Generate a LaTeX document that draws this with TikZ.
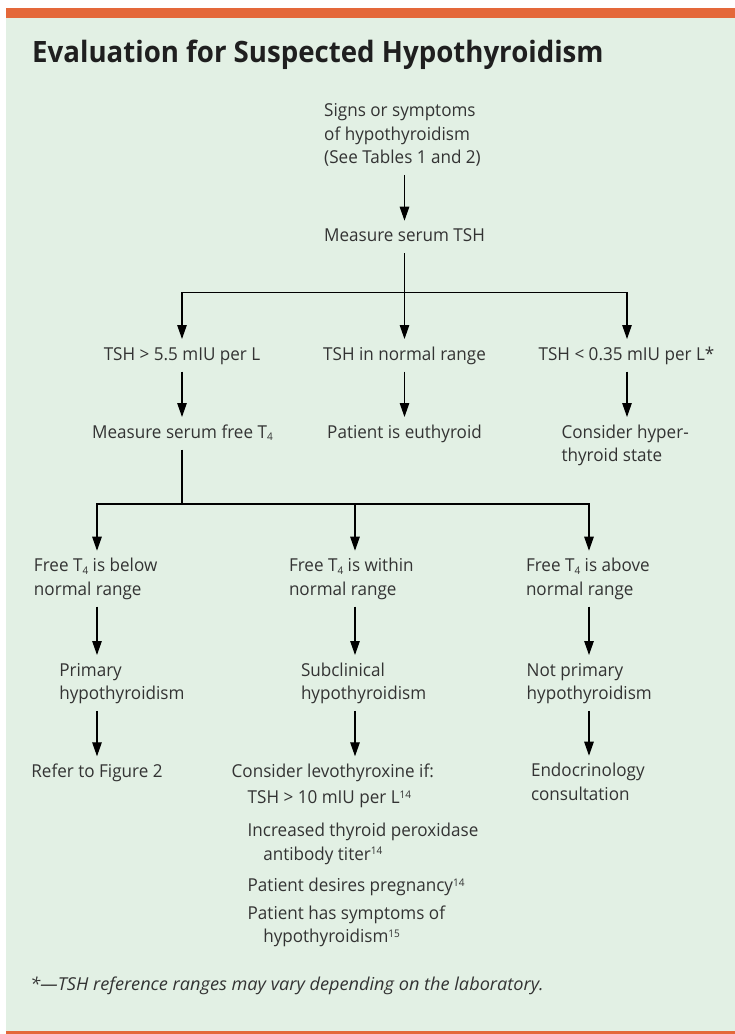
\documentclass[tikz,border=0pt]{standalone}
\usepackage{fontspec}
\setmainfont{Open Sans}[FakeStretch=0.96]
\newfontfamily\titlefont{Open Sans}[FakeStretch=0.94]
\newfontfamily\footfont{Open Sans}[FakeStretch=1.02]
\usetikzlibrary{arrows.meta,calc}
\definecolor{bggreen}{HTML}{E2F0E4}
\definecolor{barorange}{HTML}{E4683A}
\definecolor{txtc}{HTML}{333333}
\newcommand{\tline}[1]{\hbox{\rule[-5pt]{0pt}{20pt}#1}}
\newcommand{\tblock}[1]{\vtop{\baselineskip=23.3pt\lineskiplimit=-100pt #1}}
\newcommand{\myup}[1]{\raisebox{5.2pt}{\fontsize{10.5}{10}\selectfont #1}}
\newcommand{\mydown}[1]{\raisebox{-2.5pt}{\fontsize{10.5}{10}\selectfont #1}}
\tikzset{
  txt/.style={inner sep=0pt, outer sep=0pt, text=txtc, font=\fontsize{17.8}{23.3}\selectfont},
  link/.style={draw=black, line width=1.2pt},
  arrs/.style={link, -{Triangle[length=14pt,width=9.5pt]}, shorten >=6pt},
  arrb/.style={arrs, shorten <=6.5pt},
}
\begin{document}
\begin{tikzpicture}[x=1pt,y=-1pt]
\useasboundingbox (0,0) rectangle (735,1034);
\fill[white] (0,0) rectangle (735,1034);
\fill[barorange] (6,8) rectangle (735,18);
\fill[bggreen] (6,18) rectangle (735,1031);
\fill[barorange] (6,1031) rectangle (735,1034);

% column coordinates
\coordinate (c1) at (182,0);
\coordinate (c2) at (404.5,0);
\coordinate (c3) at (627,0);
\coordinate (d1) at (97,0);
\coordinate (d2) at (355,0);
\coordinate (d3) at (589,0);
\coordinate (j1) at (404.5,292.7);
\coordinate (j2) at (182,504);

\node[anchor=base west, inner sep=0pt, text=black!88, font=\fontsize{29.4}{35}\titlefont\bfseries] (title) at (32,62) {Evaluation for Suspected Hypothyroidism};

\node[txt, anchor=base] (sig) at (402.5,116.7) {\tblock{\tline{Signs or symptoms}\tline{of hypothyroidism}\tline{(See Tables 1 and 2)}}};
\node[txt, anchor=base] (tsh) at (404.5,241.7) {\tblock{\tline{Measure serum TSH}}};

\node[txt, anchor=base] (r2a) at (182,360) {\tblock{\tline{TSH > 5.5 mIU per L}}};
\node[txt, anchor=base] (r2b) at (404.5,360) {\tblock{\tline{TSH in normal range}}};
\node[txt, anchor=base] (r2c) at (626.5,360) {\tblock{\tline{TSH < 0.35 mIU per L*}}};

\node[txt, anchor=base] (r3a) at (182.5,438) {\tblock{\tline{Measure serum free T\mydown{4}}}};
\node[txt, anchor=base] (r3b) at (404.5,438) {\tblock{\tline{Patient is euthyroid}}};
\node[txt, anchor=base west] (r3c) at (561.6,438) {\tblock{\tline{Consider hyper-}\tline{thyroid state}}};

\node[txt, anchor=base west] (r4a) at (34,571.7) {\tblock{\tline{Free T\mydown{4} is below}\tline{normal range}}};
\node[txt, anchor=base west] (r4b) at (289,571.7) {\tblock{\tline{Free T\mydown{4} is within}\tline{normal range}}};
\node[txt, anchor=base west] (r4c) at (526,571.7) {\tblock{\tline{Free T\mydown{4} is above}\tline{normal range}}};

\node[txt, anchor=base west] (r5a) at (59.3,676) {\tblock{\tline{Primary}\tline{hypothyroidism}}};
\node[txt, anchor=base west] (r5b) at (301,676) {\tblock{\tline{Subclinical}\tline{hypothyroidism}}};
\node[txt, anchor=base west] (r5c) at (526.7,676) {\tblock{\tline{Not primary}\tline{hypothyroidism}}};

\node[txt, anchor=base] (r6a) at (97,777.3) {\tblock{\tline{Refer to Figure 2}}};
\node[txt, anchor=base west] (r6c) at (531,776.7) {\tblock{\tline{Endocrinology}\tline{consultation}}};

\node[txt, anchor=base west] (lv0) at (231.7,777.3) {\tblock{\tline{Consider levothyroxine if:}}};
\node[txt, anchor=base west] (lv1) at (247.7,803.3) {\tblock{\tline{TSH > 10 mIU per L\myup{14}}}};
\node[txt, anchor=base west] (lv2) at (247.7,836.7) {\tblock{\tline{Increased thyroid peroxidase}\tline{\hspace{15.6pt}antibody titer\myup{14}}}};
\node[txt, anchor=base west] (lv3) at (247.7,891.7) {\tblock{\tline{Patient desires pregnancy\myup{14}}}};
\node[txt, anchor=base west] (lv4) at (247.7,919) {\tblock{\tline{Patient has symptoms of}\tline{\hspace{15.6pt}hypothyroidism\myup{15}}}};

\node[txt, anchor=base west, font=\fontsize{17.8}{23.3}\footfont\itshape] (foot) at (30.5,990) {*—TSH reference ranges may vary depending on the laboratory.};

% connectors
\draw[arrb] (sig.south -| c2) -- (tsh.north -| c2);
\draw[link, shorten <=6.5pt] (tsh.south -| c2) -- (j1);
\draw[arrs] (j1) -| (r2a.north -| c1);
\draw[arrs] (j1) -- (r2b.north -| c2);
\draw[arrs] (j1) -| (r2c.north -| c3);
\draw[arrb] (r2a.south -| c1) -- (r3a.north -| c1);
\draw[arrb] (r2b.south -| c2) -- (r3b.north -| c2);
\draw[arrb] (r2c.south -| c3) -- (r3c.north -| c3);
\draw[link, shorten <=6.5pt] (r3a.south -| c1) -- (j2);
\draw[arrs] (j2) -| (r4a.north -| d1);
\draw[arrs] (j2) -| (r4b.north -| d2);
\draw[arrs] (j2) -| (r4c.north -| d3);
\draw[arrb] (r4a.south -| d1) -- (r5a.north -| d1);
\draw[arrb] (r4b.south -| d2) -- (r5b.north -| d2);
\draw[arrb] (r4c.south -| d3) -- (r5c.north -| d3);
\draw[arrb] (r5a.south -| d1) -- (r6a.north -| d1);
\draw[arrb] (r5b.south -| d2) -- (lv0.north -| d2);
\draw[arrb] (r5c.south -| d3) -- (r6c.north -| d3);
\end{tikzpicture}
\end{document}
